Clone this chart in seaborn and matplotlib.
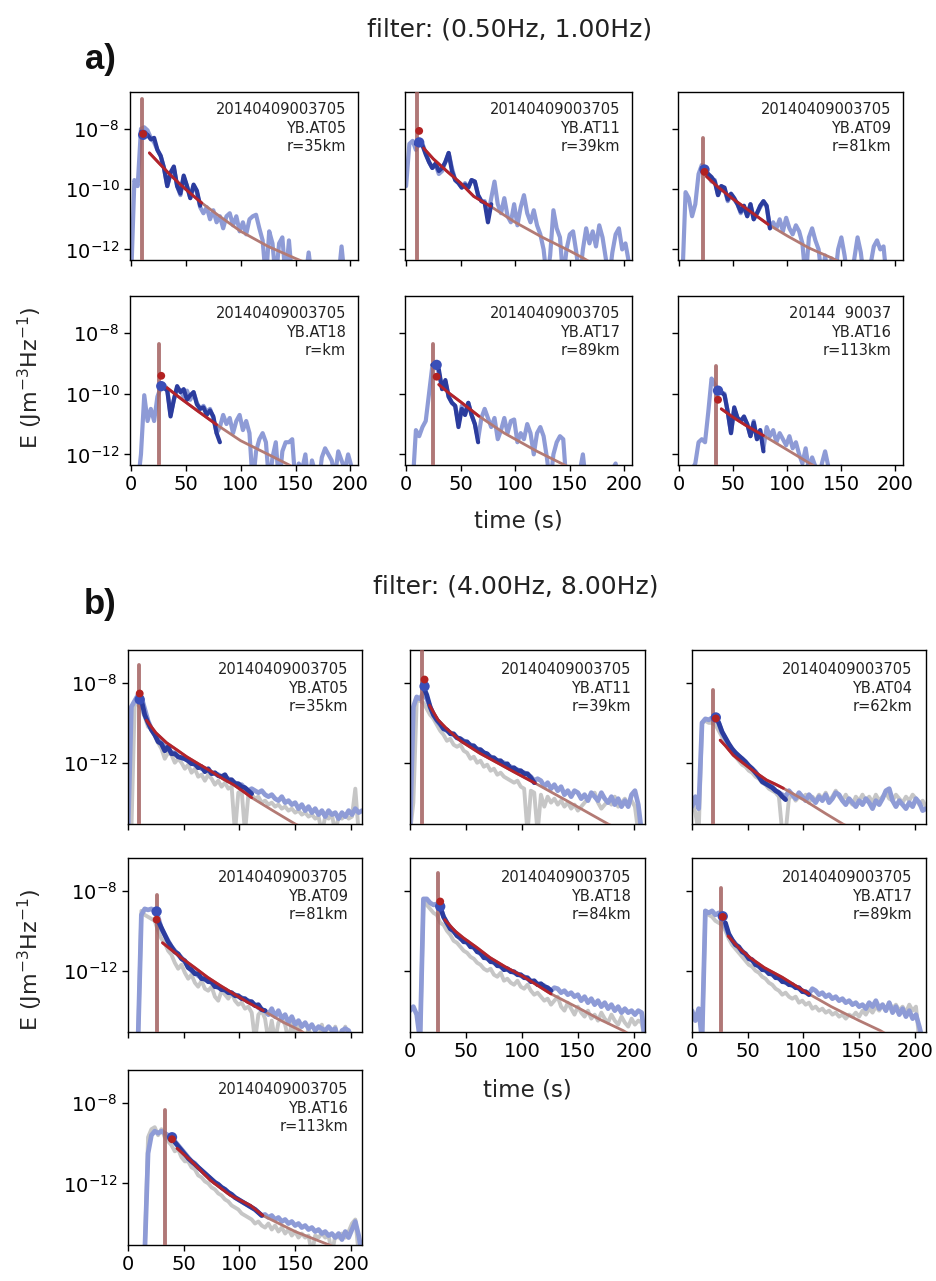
import numpy as np
import matplotlib
matplotlib.use("Agg")
import matplotlib.pyplot as plt
import seaborn as sns
from matplotlib.ticker import NullLocator, FixedLocator, FuncFormatter

sns.set_style("ticks")
plt.rcParams["font.family"] = ["DejaVu Sans"]

# ---------------- data (log10 of energy density) ----------------
TIME_A = [0, 3, 6, 9, 12, 15, 18, 21, 24, 27, 30, 33, 36, 39, 42, 45, 48, 51, 54, 57,
          60, 63, 66, 69, 72, 75, 78, 81, 84, 87, 90, 93, 96, 99, 102, 105, 108, 111,
          114, 117, 120, 123, 126, 129, 132, 135, 138, 141, 144, 147, 150, 153, 156,
          159, 162, 165, 168, 171, 174, 177, 180, 183, 186, 189, 192, 195, 198, 201, 204]
TIME_B = TIME_A + [207, 210]

EVENT = "20140409003705"

# ---- part a: 0.5-1 Hz ----
a_stations = ["YB.AT05", "YB.AT11", "YB.AT09", "YB.AT18", "YB.AT17", "YB.AT16"]
a_dists = ["r=35km", "r=39km", "r=81km", "r=km", "r=89km", "r=113km"]
a_events = [EVENT, EVENT, EVENT, EVENT, EVENT, "20144  90037"]

a1_light = [-13.0, -9.7, -9.9, -8.0, -7.95, -8.05, -8.3, -8.45, -8.7, -8.9,
            -9.3, -9.9, -9.5, -9.3, -9.9, -10.2, -9.6, -9.9, -10.3, -9.9,
            -10.1, -10.6, -10.8, -10.6, -11.0, -10.7, -11.1, -10.9, -11.3, -10.9,
            -10.8, -11.2, -10.9, -11.4, -11.1, -11.5, -11.0, -10.9, -10.85, -11.3,
            -11.7, -13.0, -11.4, -11.8, -13.0, -11.8, -11.6, -13.0, -11.7, -13.0,
            -13.0, -13.0, -13.0, -13.0, -12.1, -13.0, -13.0, -13.0, -13.0, -13.0,
            -13.0, -13.0, -13.0, -13.0, -11.9, -13.0, -13.0, -13.0, -13.0]
a1_dark = [-8.1, -8.15, -8.2, -8.35, -8.3, -8.7, -8.9, -9.3, -9.9, -9.45, -9.25, -9.9,
           -10.15, -9.55, -9.9, -10.3, -9.85, -10.05, -10.55]
a1_dark_t0 = 9
a1_fit_t = [16.7, 25, 35, 45, 55, 64.5, 80, 100, 125, 150, 160]
a1_fit_e = [-8.8, -9.12, -9.5, -9.85, -10.17, -10.46, -10.88, -11.4, -11.9, -12.3, -12.45]
a1_fit_end = 64.5
a1_spike = [9.7, -7.0]
a1_peak = [11, -8.2, -8.17]

a2_light = [-9.9, -8.5, -8.4, -8.7, -8.45, -8.5, -8.8, -9.1, -9.3, -9.2,
            -9.5, -9.4, -9.1, -8.8, -9.3, -9.7, -9.8, -9.95, -9.8, -9.95,
            -9.7, -9.75, -10.2, -10.4, -10.4, -10.9, -10.3, -9.75, -10.5, -10.8,
            -10.3, -10.9, -11.1, -10.5, -11.2, -10.6, -10.2, -10.8, -11.1, -10.7,
            -11.2, -11.5, -12.0, -13.0, -12.2, -10.7, -11.3, -11.6, -13.0, -12.0,
            -11.5, -11.4, -12.1, -13.0, -12.0, -11.3, -11.8, -11.4, -11.9, -11.2,
            -11.6, -12.3, -13.0, -12.1, -11.5, -11.3, -12.0, -11.8, -12.4]
a2_dark = [-8.5, -8.45, -8.55, -8.85, -9.1, -9.3, -9.15, -9.4, -9.3, -9.1, -8.8, -9.4,
           -9.7, -9.8, -9.95, -9.85, -9.95, -9.7, -9.75, -10.2, -10.4, -10.45, -11.1, -10.5]
a2_dark_t0 = 9
a2_fit_t = [16, 25, 37.5, 50, 62, 77.4, 100, 125, 150, 162, 170]
a2_fit_e = [-8.64, -9.0, -9.41, -9.8, -10.24, -10.57, -11.1, -11.6, -12.05, -12.28, -12.45]
a2_fit_end = 77.4
a2_spike = [10.4, -6.5]
a2_peak = [12, -8.45, -8.07]

a3_light = [-13.0, -13.0, -10.1, -10.3, -10.9, -10.5, -9.5, -9.2, -9.4, -9.55,
            -9.75, -9.7, -10.2, -9.9, -10.0, -10.4, -10.2, -10.35, -10.5, -10.8,
            -10.6, -10.9, -10.5, -11.0, -10.8, -10.6, -10.4, -10.6, -11.3, -11.1,
            -11.3, -11.0, -11.4, -10.95, -11.3, -11.5, -11.2, -11.4, -11.8, -13.0,
            -11.6, -11.3, -11.7, -12.0, -13.0, -12.2, -13.0, -12.3, -13.0, -12.0,
            -11.6, -12.2, -13.0, -13.0, -12.3, -11.6, -12.1, -13.0, -13.0, -12.5,
            -11.9, -11.7, -12.0, -11.9, -13.0, -13.0, -13.0, -13.0, -13.0]
a3_dark = [-9.3, -9.35, -9.5, -9.6, -9.75, -10.2, -9.9, -9.95, -10.35, -10.15, -10.3,
           -10.5, -10.75, -10.55, -10.9, -10.5, -11.0, -10.8, -10.55, -10.4, -10.55, -11.3]
a3_dark_t0 = 21
a3_fit_t = [25.3, 35, 48.5, 65, 82.4, 100, 120, 141, 150]
a3_fit_e = [-9.58, -9.9, -10.29, -10.72, -11.17, -11.55, -11.95, -12.28, -12.45]
a3_fit_end = 82.4
a3_spike = [22, -8.3]
a3_peak = [23.5, -9.35, -9.43]

a4_light = [-13.0, -13.0, -13.0, -12.0, -10.05, -10.9, -10.5, -10.9, -10.1, -9.8,
            -9.7, -9.85, -10.7, -10.2, -9.8, -9.9, -10.1, -9.9, -10.2, -9.95,
            -10.3, -10.5, -10.4, -10.6, -10.5, -10.8, -11.3, -11.1, -10.7, -11.0,
            -10.8, -11.3, -10.9, -10.7, -11.2, -10.9, -11.3, -13.0, -11.9, -11.5,
            -11.3, -11.6, -13.0, -12.1, -11.6, -13.0, -11.9, -11.6, -11.6, -11.5,
            -13.0, -12.3, -12.5, -12.0, -13.0, -12.2, -12.6, -13.0, -12.1, -11.8,
            -12.0, -12.2, -12.7, -11.9, -12.2, -12.5, -12.0, -12.4, -12.6]
a4_dark = [-9.75, -9.8, -9.9, -10.75, -10.2, -9.75, -9.95, -9.85, -10.2, -10.05, -9.95,
           -10.35, -10.5, -10.45, -10.7, -10.55, -10.75, -11.3, -11.6]
a4_dark_t0 = 27
a4_fit_t = [32.6, 45, 60, 78, 100, 125, 147, 155]
a4_fit_e = [-9.8, -10.15, -10.55, -11.02, -11.55, -12.0, -12.4, -12.55]
a4_fit_end = 78
a4_spike = [25, -8.36]
a4_peak = [27.5, -9.75, -9.41]

a5_light = [-13.0, -13.0, -13.0, -11.2, -11.4, -11.1, -10.9, -10.0, -9.1, -9.05,
            -9.3, -9.85, -9.6, -10.1, -10.3, -10.4, -11.0, -10.4, -10.7, -10.3,
            -10.7, -11.0, -11.5, -10.8, -10.5, -10.8, -11.1, -10.8, -11.5, -11.2,
            -10.8, -11.3, -10.9, -10.85, -11.6, -11.3, -11.5, -11.0, -11.3, -12.0,
            -11.3, -11.1, -11.4, -12.1, -13.0, -12.0, -11.6, -11.4, -11.5, -13.0,
            -13.0, -13.0, -13.0, -12.6, -12.0, -13.0, -13.0, -13.0, -13.0, -12.5,
            -13.0, -13.0, -13.0, -12.5, -12.3, -13.0, -13.0, -13.0, -13.0]
a5_dark = [-9.05, -9.0, -9.2, -9.85, -9.55, -10.1, -10.3, -10.4, -11.1, -10.5, -10.7,
           -10.3, -10.7, -11.0, -11.6]
a5_dark_t0 = 24
a5_fit_t = [30, 40, 50, 66.7, 90, 120, 148, 155]
a5_fit_e = [-9.7, -10.0, -10.27, -10.74, -11.3, -11.9, -12.4, -12.55]
a5_fit_end = 66.7
a5_spike = [25, -8.36]
a5_peak = [28, -9.05, -9.44]

a6_light = [-13.0, -13.0, -13.0, -13.0, -12.5, -12.3, -11.6, -11.5, -11.6, -10.6,
            -9.5, -9.7, -9.9, -9.95, -10.0, -10.6, -11.3, -10.5, -10.8, -10.9,
            -10.8, -11.0, -11.4, -10.9, -11.5, -11.2, -11.8, -11.1, -11.4, -11.2,
            -11.6, -11.3, -11.5, -11.7, -11.4, -11.8, -11.6, -12.0, -12.3, -11.8,
            -12.5, -12.1, -12.4, -13.0, -12.3, -11.9, -12.4, -13.0, -13.0, -12.6,
            -12.4, -13.0, -13.0, -13.0, -13.0, -13.0, -13.0, -12.45, -13.0, -13.0,
            -13.0, -13.0, -13.0, -13.0, -13.0, -13.0, -13.0, -13.0, -13.0]
a6_dark = [-9.9, -9.95, -10.05, -10.6, -11.3, -10.45, -10.8, -10.9, -10.75, -11.0, -11.4,
           -10.95, -11.5, -11.2, -11.9]
a6_dark_t0 = 36
a6_fit_t = [39, 50, 62, 78, 100, 125.6, 130]
a6_fit_e = [-10.5, -10.78, -11.05, -11.38, -11.85, -12.4, -12.5]
a6_fit_end = 78
a6_spike = [34, -9.1]
a6_peak = [36, -9.9, -10.2]

# ---- part b: 4-8 Hz ----
b_stations = ["YB.AT05", "YB.AT11", "YB.AT04", "YB.AT09", "YB.AT18", "YB.AT17", "YB.AT16"]
b_dists = ["r=35km", "r=39km", "r=62km", "r=81km", "r=84km", "r=89km", "r=113km"]

b1_light = [-15.5, -9.2, -8.9, -8.6, -8.7, -9.3, -9.9, -10.3, -10.6, -10.8,
            -11.0, -11.2, -11.3, -11.5, -11.5, -11.7, -11.75, -11.8, -11.9, -12.0,
            -12.1, -12.15, -12.3, -12.3, -12.4, -12.5, -12.55, -12.6, -12.7, -12.8,
            -12.8, -12.9, -13.0, -13.1, -13.1, -13.3, -13.4, -13.3, -13.4, -13.5,
            -13.4, -13.6, -13.7, -13.6, -13.8, -13.9, -13.7, -14.0, -13.9, -14.1,
            -14.0, -14.3, -14.1, -14.4, -14.2, -14.5, -14.3, -14.6, -14.4, -14.7,
            -14.4, -14.6, -14.5, -14.8, -14.5, -14.7, -14.4, -14.6, -14.3, -14.5, -14.4]
b1_grey = [-15.5, -15.5, -9.0, -9.1, -9.3, -9.7, -10.2, -10.3, -10.6, -11.0,
           -11.3, -11.8, -11.5, -11.6, -12.0, -11.8, -12.0, -12.3, -12.1, -12.5,
           -12.3, -12.7, -12.6, -12.9, -12.6, -12.8, -13.1, -12.9, -13.2, -13.0,
           -13.3, -13.2, -15.5, -13.5, -13.4, -15.5, -13.6, -13.6, -13.8, -13.7,
           -14.0, -13.9, -14.1, -14.0, -14.2, -14.1, -14.3, -14.2, -14.4, -14.3,
           -14.5, -14.4, -14.6, -14.5, -14.7, -14.6, -14.8, -14.7, -15.5, -14.7,
           -14.8, -14.6, -15.5, -14.7, -14.8, -14.6, -14.8, -14.7, -13.3, -15.5, -15.5]
b1_dark = [-8.8, -8.85, -9.6, -10.0, -10.35, -10.6, -10.95, -11.05, -11.4, -11.2, -11.55,
           -11.55, -11.7, -11.75, -11.8, -11.9, -12.05, -12.05, -12.25, -12.2, -12.45, -12.3,
           -12.55, -12.5, -12.65, -12.7, -12.6, -12.9, -12.85, -13.05, -13.05, -13.2, -13.25,
           -13.4, -13.55]
b1_dark_t0 = 9
b1_fit_t = [16.5, 25, 34.6, 45, 52.6, 63, 73.7, 85, 94.7, 105, 111, 130, 150, 155]
b1_fit_e = [-9.87, -10.5, -11.0, -11.4, -11.7, -12.05, -12.4, -12.8, -13.1, -13.5, -13.75,
            -14.4, -15.07, -15.2]
b1_fit_end = 111
b1_spike = [10, -7.1]
b1_peak = [10.5, -8.83, -8.53]

b2_light = [-15.5, -9.2, -8.7, -8.8, -8.5, -8.8, -9.2, -9.6, -9.9, -10.1,
            -10.3, -10.4, -10.5, -10.6, -10.75, -10.8, -10.9, -11.0, -11.1, -11.2,
            -11.3, -11.35, -11.5, -11.6, -11.7, -11.8, -11.9, -11.95, -12.0, -12.15,
            -12.2, -12.3, -12.35, -12.45, -12.5, -12.6, -12.7, -12.9, -12.8, -12.9,
            -13.2, -13.0, -13.3, -13.1, -13.4, -13.2, -13.6, -13.4, -13.7, -13.4,
            -13.5, -13.8, -13.6, -13.9, -13.5, -13.7, -13.9, -13.5, -13.8, -14.0,
            -13.7, -14.1, -13.8, -14.2, -13.9, -14.2, -13.6, -13.4, -14.1, -15.5, -15.5]
b2_grey = [-15.5, -14.0, -8.9, -8.9, -9.0, -9.3, -9.6, -9.8, -10.1, -10.4,
           -10.6, -10.9, -10.8, -11.1, -11.2, -11.1, -11.4, -11.5, -11.8, -11.7,
           -12.0, -11.9, -12.2, -12.1, -12.4, -12.3, -12.6, -12.5, -12.7, -12.8,
           -12.9, -13.0, -12.9, -13.2, -13.3, -15.5, -13.4, -13.5, -15.5, -13.6,
           -14.2, -13.7, -14.0, -13.8, -14.1, -13.9, -14.2, -14.0, -14.3, -14.1,
           -14.4, -14.2, -14.0, -13.8, -13.6, -13.5, -14.0, -14.3, -14.1, -13.9,
           -14.1, -13.7, -14.2, -14.0, -13.8, -14.1, -13.9, -14.2, -15.5, -15.5, -15.5]
b2_dark = [-8.2, -8.6, -9.2, -9.6, -9.85, -10.05, -10.3, -10.35, -10.55, -10.55,
           -10.75, -10.8, -10.95, -10.95, -11.15, -11.15, -11.35, -11.35, -11.5, -11.55,
           -11.75, -11.75, -11.9, -11.9, -12.1, -12.05, -12.3, -12.25, -12.4, -12.4,
           -12.55, -12.55, -12.75, -13.0]
b2_dark_t0 = 12
b2_fit_t = [17.4, 25, 32.5, 45, 62.6, 78, 92.6, 112, 140, 177, 180]
b2_fit_e = [-9.12, -9.85, -10.28, -10.9, -11.53, -12.0, -12.45, -13.03, -13.9, -15.07, -15.15]
b2_fit_end = 112
b2_spike = [10.5, -6.0]
b2_peak = [13, -8.17, -7.83]

b3_light = [-14.2, -13.7, -14.3, -10.0, -9.8, -9.85, -9.75, -9.7, -10.0, -10.5,
            -10.8, -11.1, -11.4, -11.5, -11.7, -11.8, -12.0, -12.15, -12.3, -12.45,
            -12.7, -12.9, -13.0, -13.1, -13.2, -13.4, -13.5, -13.6, -13.7, -13.4,
            -13.6, -13.8, -13.5, -13.7, -13.9, -13.6, -13.8, -14.0, -13.7, -13.9,
            -13.6, -14.0, -13.8, -13.5, -13.6, -13.9, -14.1, -13.8, -14.0, -14.2,
            -13.9, -14.1, -13.8, -14.0, -14.3, -13.9, -14.1, -13.8, -13.4, -13.3,
            -13.9, -14.2, -13.9, -14.1, -14.3, -14.0, -14.2, -13.8, -14.0, -14.4, -14.3]
b3_grey = [-13.9, -14.5, -15.5, -10.0, -9.9, -10.0, -10.0, -10.1, -10.4, -10.7,
           -11.0, -11.3, -11.5, -11.7, -11.9, -12.1, -12.2, -12.4, -12.5, -12.7,
           -12.8, -13.0, -13.1, -13.3, -13.4, -13.5, -13.7, -15.5, -15.5, -13.8,
           -13.6, -13.9, -13.7, -13.8, -13.6, -14.0, -13.7, -13.9, -13.6, -13.8,
           -13.5, -13.9, -13.7, -13.4, -13.7, -13.9, -13.6, -13.9, -14.1, -13.7,
           -13.9, -13.6, -13.9, -13.7, -14.0, -13.6, -13.9, -13.7, -13.5, -13.8,
           -13.9, -13.6, -13.8, -14.0, -13.7, -13.9, -13.6, -13.8, -14.1, -13.9, -14.2]
b3_dark = [-9.7, -10.0, -10.45, -10.75, -11.05, -11.3, -11.5, -11.65, -11.8, -11.95,
           -12.15, -12.3, -12.5, -12.7, -12.95, -13.05, -13.15, -13.25, -13.4, -13.5,
           -13.7, -13.85]
b3_dark_t0 = 21
b3_fit_t = [25.3, 30, 37, 45, 52, 60, 67, 75, 82, 100, 120, 135.4, 140]
b3_fit_e = [-10.87, -11.15, -11.62, -11.98, -12.28, -12.6, -12.87, -13.08, -13.28, -13.85,
            -14.55, -15.07, -15.2]
b3_fit_end = 82
b3_spike = [18.75, -8.37]
b3_peak = [21.4, -9.73, -9.78]

b4_light = [-15.5, -15.5, -15.5, -15.5, -9.2, -8.9, -8.95, -8.9, -9.0, -9.3,
            -9.9, -10.2, -10.5, -10.8, -11.0, -11.2, -11.35, -11.55, -11.8, -12.0,
            -12.1, -12.25, -12.35, -12.45, -12.5, -12.6, -12.75, -12.85, -12.9, -13.0,
            -13.05, -13.15, -13.2, -13.3, -13.35, -13.45, -13.5, -13.6, -13.7, -13.85,
            -13.95, -14.0, -14.2, -13.9, -14.3, -14.0, -14.4, -14.2, -14.6, -14.3,
            -14.7, -14.5, -14.8, -14.6, -14.9, -14.7, -15.0, -14.8, -14.9, -15.0,
            -14.8, -15.0, -14.9, -15.5, -15.0, -14.9, -15.0, -15.5, -15.5, -15.5, -15.5]
b4_grey = [-15.5, -15.5, -15.5, -15.5, -9.0, -9.2, -9.3, -9.4, -9.5, -10.0,
           -10.4, -10.6, -11.0, -11.2, -11.6, -11.9, -11.7, -12.1, -12.4, -12.2,
           -12.6, -12.8, -12.5, -12.9, -13.0, -12.8, -13.3, -13.5, -13.0, -13.2,
           -13.4, -13.1, -13.5, -13.7, -13.6, -13.9, -13.8, -14.1, -15.5, -14.2,
           -14.0, -14.4, -15.5, -14.5, -15.5, -14.6, -14.4, -14.7, -15.5, -14.6,
           -15.5, -14.7, -15.5, -15.5, -14.9, -15.5, -15.5, -15.5, -14.7, -15.5,
           -15.5, -15.5, -14.8, -15.5, -15.5, -14.8, -15.5, -15.5, -15.5, -15.5, -15.5]
b4_dark = [-9.5, -9.85, -10.2, -10.55, -10.8, -11.05, -11.15, -11.4, -11.5, -11.85,
           -11.95, -12.15, -12.15, -12.4, -12.4, -12.55, -12.55, -12.8, -12.8, -12.95,
           -12.95, -13.1, -13.1, -13.25, -13.25, -13.4, -13.4, -13.55, -13.55, -13.75,
           -13.7, -13.95, -14.0]
b4_dark_t0 = 27
b4_fit_t = [31, 40, 47.6, 60, 71.4, 83, 95, 108, 121.4, 140, 154.8, 160]
b4_fit_e = [-10.6, -11.0, -11.34, -11.85, -12.33, -12.75, -13.16, -13.6, -14.0, -14.6, -15.0, -15.2]
b4_fit_end = 121.4
b4_spike = [25.7, -8.2]
b4_peak = [25.7, -9.03, -9.44]

b5_light = [-14.0, -13.8, -14.2, -15.5, -8.4, -8.4, -8.6, -8.7, -8.65, -8.8,
            -9.3, -9.6, -9.85, -10.05, -10.2, -10.4, -10.5, -10.6, -10.75, -10.85,
            -11.0, -11.15, -11.3, -11.4, -11.5, -11.6, -11.7, -11.8, -11.9, -11.95,
            -12.0, -12.1, -12.15, -12.25, -12.3, -12.4, -12.5, -12.55, -12.65, -12.7,
            -12.75, -12.9, -13.0, -12.85, -12.9, -13.1, -13.0, -13.2, -13.1, -13.3,
            -13.2, -13.5, -13.3, -13.6, -13.4, -13.7, -13.5, -13.8, -13.6, -13.9,
            -13.7, -14.0, -13.8, -14.1, -13.9, -14.1, -14.0, -14.2, -14.0, -14.1, -15.5]
b5_grey = [-15.5, -15.5, -15.5, -15.5, -8.5, -8.7, -8.9, -9.1, -9.2, -9.6,
           -9.7, -10.0, -10.2, -10.5, -10.6, -10.8, -11.0, -11.1, -11.3, -11.4,
           -11.6, -11.7, -11.9, -12.0, -11.9, -12.2, -12.3, -12.1, -12.5, -12.4,
           -12.6, -12.7, -12.5, -12.8, -12.9, -12.7, -13.0, -13.2, -13.1, -13.3,
           -13.5, -13.4, -13.7, -13.5, -13.3, -13.8, -14.0, -13.6, -13.9, -14.2,
           -13.8, -14.1, -14.3, -14.0, -14.4, -14.2, -14.5, -14.1, -14.4, -14.6,
           -14.2, -14.5, -14.7, -14.3, -14.6, -14.8, -14.4, -14.7, -14.5, -14.6, -15.5]
b5_dark = [-8.8, -9.3, -9.6, -9.9, -10.0, -10.25, -10.35, -10.55, -10.55, -10.8,
           -10.8, -11.05, -11.1, -11.35, -11.35, -11.55, -11.55, -11.75, -11.75, -11.95,
           -11.9, -12.05, -12.05, -12.2, -12.2, -12.35, -12.35, -12.55, -12.5, -12.7,
           -12.65, -12.8, -12.85, -13.0]
b5_dark_t0 = 27
b5_fit_t = [31, 40, 47.6, 60, 71.4, 85, 100, 113, 126, 150, 170, 190.5, 195]
b5_fit_e = [-9.44, -10.0, -10.35, -10.85, -11.34, -11.8, -12.25, -12.7, -13.16, -13.85,
            -14.45, -15.0, -15.15]
b5_fit_end = 126
b5_spike = [24.8, -7.12]
b5_peak = [27, -8.78, -8.53]

b6_light = [-14.0, -14.5, -13.9, -15.5, -9.0, -9.1, -9.0, -9.2, -9.1, -9.25,
            -9.8, -10.2, -10.45, -10.65, -10.85, -11.0, -11.2, -11.35, -11.5, -11.65,
            -11.8, -11.9, -12.0, -12.1, -12.2, -12.3, -12.4, -12.5, -12.6, -12.65,
            -12.75, -12.8, -12.9, -13.0, -13.1, -13.15, -12.9, -13.0, -13.2, -13.1,
            -13.3, -13.2, -13.4, -13.3, -13.5, -13.4, -13.6, -13.5, -13.7, -13.6,
            -13.8, -13.7, -13.9, -13.6, -13.8, -13.5, -13.9, -13.7, -14.0, -13.6,
            -14.1, -13.8, -14.2, -13.9, -14.3, -14.0, -14.4, -14.2, -14.8, -15.5, -15.5]
b6_grey = [-15.5, -15.5, -15.5, -15.5, -9.0, -9.2, -9.3, -9.5, -9.6, -9.7,
           -10.0, -10.4, -10.7, -10.9, -11.1, -11.3, -11.5, -11.7, -11.8, -12.0,
           -12.1, -12.3, -12.4, -12.6, -12.7, -12.9, -13.0, -13.2, -13.1, -13.3,
           -13.4, -13.3, -13.6, -13.5, -13.7, -13.6, -13.9, -13.8, -14.0, -13.9,
           -14.1, -14.0, -14.2, -14.1, -14.3, -14.2, -14.4, -14.2, -14.3, -14.1,
           -14.3, -14.0, -14.2, -13.9, -14.1, -13.8, -14.0, -13.7, -14.0, -13.6,
           -13.9, -13.7, -14.0, -13.8, -14.1, -13.7, -14.0, -13.8, -15.5, -15.5, -15.5]
b6_dark = [-9.6, -10.15, -10.45, -10.7, -10.8, -11.05, -11.15, -11.4, -11.45, -11.7,
           -11.75, -11.95, -11.95, -12.15, -12.15, -12.35, -12.35, -12.55, -12.55, -12.7,
           -12.7, -12.85, -12.85, -13.05, -13.05, -13.2]
b6_dark_t0 = 30
b6_fit_t = [32.4, 42, 52, 65, 81, 93, 104.8, 125, 150, 169, 175]
b6_fit_e = [-10.26, -10.85, -11.34, -11.85, -12.33, -12.75, -13.16, -13.8, -14.5, -15.0, -15.2]
b6_fit_end = 104.8
b6_spike = [26, -7.87]
b6_peak = [27.6, -9.27, -9.3]

b7_light = [-15.5, -15.5, -15.5, -15.5, -15.5, -15.5, -10.5, -9.6, -9.4, -9.5,
            -9.4, -9.5, -9.6, -9.7, -9.9, -10.1, -10.3, -10.5, -10.7, -10.9,
            -11.0, -11.2, -11.35, -11.5, -11.65, -11.8, -11.95, -12.05, -12.2, -12.3,
            -12.45, -12.55, -12.7, -12.8, -12.9, -13.0, -13.1, -13.2, -13.3, -13.45,
            -13.6, -13.55, -13.7, -13.6, -13.8, -13.7, -13.9, -13.8, -14.0, -13.9,
            -14.1, -14.0, -14.2, -14.1, -14.3, -14.2, -14.4, -14.3, -14.5, -14.4,
            -14.6, -14.5, -14.7, -14.5, -14.8, -14.4, -14.7, -14.3, -13.9, -14.6, -15.5]
b7_grey = [-15.5, -15.5, -15.5, -15.5, -15.5, -15.5, -9.7, -9.3, -9.2, -9.6,
           -9.3, -9.7, -9.9, -10.1, -10.4, -10.3, -10.7, -10.9, -10.9, -11.2,
           -11.3, -11.6, -11.7, -11.9, -12.0, -12.2, -12.3, -12.5, -12.6, -12.8,
           -12.9, -13.1, -13.2, -13.3, -13.5, -13.6, -13.7, -13.8, -14.0, -13.9,
           -14.1, -14.2, -14.0, -14.3, -14.1, -14.4, -14.2, -14.5, -14.3, -14.6,
           -14.4, -14.7, -14.5, -14.7, -14.6, -15.5, -14.6, -14.7, -14.5, -14.7,
           -14.6, -15.5, -14.6, -14.7, -14.5, -14.7, -14.4, -14.0, -13.8, -15.5, -15.5]
b7_dark = [-9.75, -9.95, -10.15, -10.35, -10.55, -10.75, -10.9, -11.05, -11.2, -11.35,
           -11.5, -11.65, -11.8, -11.95, -12.05, -12.2, -12.3, -12.45, -12.55, -12.7,
           -12.8, -12.9, -13.0, -13.1, -13.2, -13.3, -13.45, -13.6]
b7_dark_t0 = 39
b7_fit_t = [44, 56, 74, 92, 110, 121, 150, 182, 186]
b7_fit_e = [-10.25, -10.85, -11.85, -12.6, -13.1, -13.6, -14.4, -15.1, -15.2]
b7_fit_end = 121
b7_spike = [33.5, -8.35]
b7_peak = [39.5, -9.7, -9.8]

# ---------------- styling ----------------
C_LIGHT = "#8e9bd6"
C_DARK = "#2b3c9e"
C_GREY = "#c6c6c6"
C_RED = "#b3232b"
C_BROWN = "#b37a74"
C_SPIKE = "#a3605f"
C_BDOT = "#3a4fb8"
C_RDOT = "#b22222"

W, H = 937, 1281
fig = plt.figure(figsize=(W / 100, H / 100), dpi=100)


def box(l, t, r, b):
    return [l / W, 1 - b / H, (r - l) / W, (b - t) / H]


def lin(v):
    return np.power(10.0, np.asarray(v, dtype=float))


def trace(ax, t, v, color, lw, z, alpha=1.0):
    n = min(len(t), len(v))
    sns.lineplot(x=np.asarray(t[:n], dtype=float), y=lin(v[:n]), ax=ax, color=color,
                 linewidth=lw, estimator=None, sort=False, legend=False, alpha=alpha,
                 zorder=z)


def panel(ax, time, light, grey, dark, dark_t0, fit_t, fit_e, fit_end, spike, peak,
          label, part):
    lw_main = 3.0 if part == "a" else 3.4
    if grey is not None:
        trace(ax, time, grey, C_GREY, 2.8, 1)
    trace(ax, time, light, C_LIGHT, lw_main, 2)
    trace(ax, [spike[0], spike[0]], [-17, spike[1]], C_SPIKE, 2.8, 3, alpha=0.85)
    trace(ax, fit_t, fit_e, C_BROWN, 2.0, 3)
    i0 = time.index(dark_t0)
    trace(ax, time[i0:i0 + len(dark)], dark, C_DARK, lw_main, 4)
    red_t = [t for t in fit_t if t <= fit_end + 1e-9]
    trace(ax, red_t, fit_e[:len(red_t)], C_RED, 2.1, 5)
    sns.scatterplot(x=[peak[0]], y=[10 ** peak[1]], ax=ax, color=C_BDOT, s=55,
                    edgecolor="none", zorder=6, legend=False)
    sns.scatterplot(x=[peak[0]], y=[10 ** peak[2]], ax=ax, color=C_RDOT, s=32,
                    edgecolor="none", zorder=7, legend=False)
    ax.set_yscale("log")
    if part == "a":
        ax.set_xlim(-1, 207)
        ax.set_ylim(10 ** -12.35, 10 ** -6.78)
        ax.yaxis.set_major_locator(FixedLocator([1e-12, 1e-10, 1e-8]))
        tx, ty = 0.947, 0.94
    else:
        ax.set_xlim(0, 210)
        ax.set_ylim(10 ** -15.07, 10 ** -6.35)
        ax.yaxis.set_major_locator(FixedLocator([1e-12, 1e-8]))
        tx, ty = 0.94, 0.93
    ax.yaxis.set_minor_locator(NullLocator())
    ax.yaxis.set_major_formatter(FuncFormatter(
        lambda v, p: r"$\mathdefault{10^{%d}}$" % int(round(np.log10(v)))))
    ax.xaxis.set_major_locator(FixedLocator([0, 50, 100, 150, 200]))
    ax.xaxis.set_minor_locator(NullLocator())
    ax.set_xlabel("")
    ax.set_ylabel("")
    ax.tick_params(axis="both", which="major", length=4.5, width=1.0, direction="out",
                   colors="black", labelsize=14, pad=3)
    for s in ax.spines.values():
        s.set_visible(True)
        s.set_color("black")
        s.set_linewidth(1.0)
    ax.text(tx, ty, "\n".join(label), transform=ax.transAxes, ha="right", va="top",
            fontsize=10.5, linespacing=1.3, multialignment="right", color="#222222",
            zorder=10)


A_ROWS = [(92, 260), (296, 465)]
A_COLS = [(130, 358), (405, 632), (678, 903)]
B_ROWS = [(650, 824), (858, 1032), (1070, 1245)]
B_COLS = [(128, 362), (410, 645), (692, 926)]

a_data = [
    (a1_light, a1_dark, a1_dark_t0, a1_fit_t, a1_fit_e, a1_fit_end, a1_spike, a1_peak),
    (a2_light, a2_dark, a2_dark_t0, a2_fit_t, a2_fit_e, a2_fit_end, a2_spike, a2_peak),
    (a3_light, a3_dark, a3_dark_t0, a3_fit_t, a3_fit_e, a3_fit_end, a3_spike, a3_peak),
    (a4_light, a4_dark, a4_dark_t0, a4_fit_t, a4_fit_e, a4_fit_end, a4_spike, a4_peak),
    (a5_light, a5_dark, a5_dark_t0, a5_fit_t, a5_fit_e, a5_fit_end, a5_spike, a5_peak),
    (a6_light, a6_dark, a6_dark_t0, a6_fit_t, a6_fit_e, a6_fit_end, a6_spike, a6_peak),
]
for k, d in enumerate(a_data):
    r, c = divmod(k, 3)
    ax = fig.add_axes(box(A_COLS[c][0], A_ROWS[r][0], A_COLS[c][1], A_ROWS[r][1]))
    light, dark, dt0, ft, fe, fend, spk, pk = d
    panel(ax, TIME_A, light, None, dark, dt0, ft, fe, fend, spk, pk,
          (a_events[k], a_stations[k], a_dists[k]), "a")
    ax.tick_params(labelbottom=(r == 1), labelleft=(c == 0))

b_data = [
    (b1_light, b1_grey, b1_dark, b1_dark_t0, b1_fit_t, b1_fit_e, b1_fit_end, b1_spike, b1_peak),
    (b2_light, b2_grey, b2_dark, b2_dark_t0, b2_fit_t, b2_fit_e, b2_fit_end, b2_spike, b2_peak),
    (b3_light, b3_grey, b3_dark, b3_dark_t0, b3_fit_t, b3_fit_e, b3_fit_end, b3_spike, b3_peak),
    (b4_light, b4_grey, b4_dark, b4_dark_t0, b4_fit_t, b4_fit_e, b4_fit_end, b4_spike, b4_peak),
    (b5_light, b5_grey, b5_dark, b5_dark_t0, b5_fit_t, b5_fit_e, b5_fit_end, b5_spike, b5_peak),
    (b6_light, b6_grey, b6_dark, b6_dark_t0, b6_fit_t, b6_fit_e, b6_fit_end, b6_spike, b6_peak),
    (b7_light, b7_grey, b7_dark, b7_dark_t0, b7_fit_t, b7_fit_e, b7_fit_end, b7_spike, b7_peak),
]
for k, d in enumerate(b_data):
    r, c = divmod(k, 3)
    ax = fig.add_axes(box(B_COLS[c][0], B_ROWS[r][0], B_COLS[c][1], B_ROWS[r][1]))
    light, grey, dark, dt0, ft, fe, fend, spk, pk = d
    panel(ax, TIME_B, light, grey, dark, dt0, ft, fe, fend, spk, pk,
          (EVENT, b_stations[k], b_dists[k]), "b")
    show_x = (r == 2) or (r == 1 and c > 0)
    ax.tick_params(labelbottom=show_x, labelleft=(c == 0))

# ---------------- figure texts ----------------
fig.text(510 / W, 1 - 29 / H, "filter: (0.50Hz, 1.00Hz)", ha="center", va="center",
         fontsize=18, color="#222222")
fig.text(516 / W, 1 - 586 / H, "filter: (4.00Hz, 8.00Hz)", ha="center", va="center",
         fontsize=18, color="#222222")
fig.text(100 / W, 1 - 60 / H, "a)", ha="center", va="center", fontsize=25,
         fontweight="bold", family=["Liberation Sans", "DejaVu Sans"], color="#111111")
fig.text(100 / W, 1 - 604 / H, "b)", ha="center", va="center", fontsize=25,
         fontweight="bold", family=["Liberation Sans", "DejaVu Sans"], color="#111111")
fig.text(518 / W, 1 - 521 / H, "time (s)", ha="center", va="center", fontsize=16.5)
fig.text(527 / W, 1 - 1090 / H, "time (s)", ha="center", va="center", fontsize=16.5)
fig.text(30 / W, 1 - 378 / H, r"E (Jm$^{-3}$Hz$^{-1}$)", ha="center", va="center",
         rotation=90, fontsize=16)
fig.text(30 / W, 1 - 960 / H, r"E (Jm$^{-3}$Hz$^{-1}$)", ha="center", va="center",
         rotation=90, fontsize=16)

fig.savefig("out.png", dpi=100)
